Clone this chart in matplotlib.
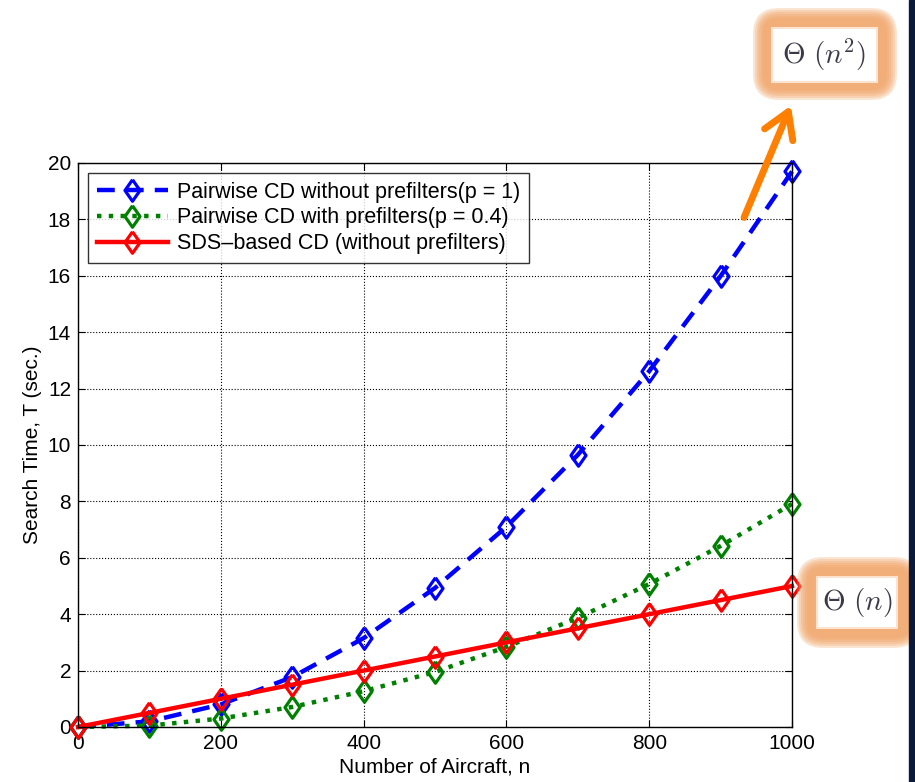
import matplotlib.pyplot as plt
from matplotlib.patches import Rectangle, FancyArrowPatch, FancyBboxPatch

plt.rcParams['font.family'] = ['Liberation Sans', 'DejaVu Sans']
plt.rcParams['mathtext.fontset'] = 'cm'

n = [0, 100, 200, 300, 400, 500, 600, 700, 800, 900, 1000]
pairwise_p1 = [0, 0.2, 0.8, 1.77, 3.15, 4.93, 7.1, 9.65, 12.62, 15.99, 19.7]
pairwise_p04 = [0, 0.05, 0.3, 0.71, 1.27, 1.95, 2.84, 3.87, 5.07, 6.42, 7.91]
sds_based = [0, 0.5, 1.0, 1.5, 2.0, 2.5, 3.0, 3.5, 4.0, 4.5, 5.0]

W, H = 915, 782
fig = plt.figure(figsize=(W / 100, H / 100), dpi=100)
ax = fig.add_axes([78 / W, 1 - 727 / H, 714 / W, 564 / H])

# matlab-ish diamond (a bit narrower than tall)
diamond = [(0, 1), (0.7, 0), (0, -1), (-0.7, 0), (0, 1)]
mk = dict(marker=diamond, markersize=15.5, markerfacecolor='none',
          markeredgewidth=2.3, clip_on=False)
ax.plot(n, pairwise_p1, '--', color='#0000ff', lw=3.2, dashes=(4, 2.5),
        markeredgecolor='#0000ff', label='Pairwise CD without prefilters(p = 1)', **mk)
ax.plot(n, pairwise_p04, ':', color='#008000', lw=3.2,
        markeredgecolor='#008000', label='Pairwise CD with prefilters(p = 0.4)', **mk)
ax.plot(n, sds_based, '-', color='#ff0000', lw=3.2,
        markeredgecolor='#ff0000', label='SDS\u2013based CD (without prefilters)', **mk)

ax.set_xlim(0, 1000)
ax.set_ylim(0, 20)
ax.set_xticks(range(0, 1001, 200))
ax.set_yticks(range(0, 21, 2))
ax.tick_params(direction='in', labelsize=15, length=5, top=True, right=True, pad=5)
ax.grid(True, color='black', linestyle=':', linewidth=0.8)
for s in ax.spines.values():
    s.set_linewidth(1)
ax.set_xlabel('Number of Aircraft, n', fontsize=15, labelpad=3)
ax.set_ylabel('Search Time, T (sec.)', fontsize=15, labelpad=4)

leg = ax.legend(loc='upper left', fontsize=15.5, frameon=True, fancybox=False,
                edgecolor='black', handlelength=3.3, borderpad=0.4,
                labelspacing=0.22, handletextpad=0.45, borderaxespad=0,
                bbox_to_anchor=(10 / 714, 1 - 10 / 564))
leg.get_frame().set_linewidth(1)


def px_box(x0, y0, x1, y1):
    # pixel box (top-left origin) -> figure fraction (x, y, w, h)
    return x0 / W, 1 - y1 / H, (x1 - x0) / W, (y1 - y0) / H


def glow_label(txt, outer, inner, fs):
    for shrink in range(0, 12, 2):
        x, y, w, h = px_box(outer[0] + shrink, outer[1] + shrink,
                            outer[2] - shrink, outer[3] - shrink)
        fig.patches.append(FancyBboxPatch(
            (x, y), w, h, boxstyle='round,pad=0,rounding_size=%f' % ((26 - shrink) / W),
            transform=fig.transFigure, fc='#f0a264', ec='none', alpha=0.28,
            mutation_aspect=W / H, zorder=5))
    x, y, w, h = px_box(*inner)
    fig.patches.append(Rectangle((x, y), w, h, transform=fig.transFigure,
                                 fc='white', ec='#fbe3cf', lw=1.5, zorder=6))
    fig.text(x + w / 2, y + h / 2, txt, fontsize=fs, ha='center', va='center',
             color='#3a3a48', zorder=7)


glow_label(r'$\Theta\ (n^2)$', (753, 8, 897, 100), (772, 28, 877, 82), 21)
glow_label(r'$\Theta\ (n)$', (797, 557, 920, 648), (817, 577, 897, 628), 21)

arrow = FancyArrowPatch((743 / W, 1 - 220 / H), (792 / W, 1 - 103 / H),
                        transform=fig.transFigure,
                        arrowstyle='->,head_length=1.8,head_width=1.1',
                        color='#ff8000', lw=5, mutation_scale=10,
                        capstyle='round', joinstyle='round', zorder=8)
fig.patches.append(arrow)

# dark strip on the right edge
fig.patches.append(Rectangle((909 / W, 0), 6 / W, 1, transform=fig.transFigure,
                             color='#0b1a3a', zorder=10))

fig.savefig('out.png', dpi=100)
